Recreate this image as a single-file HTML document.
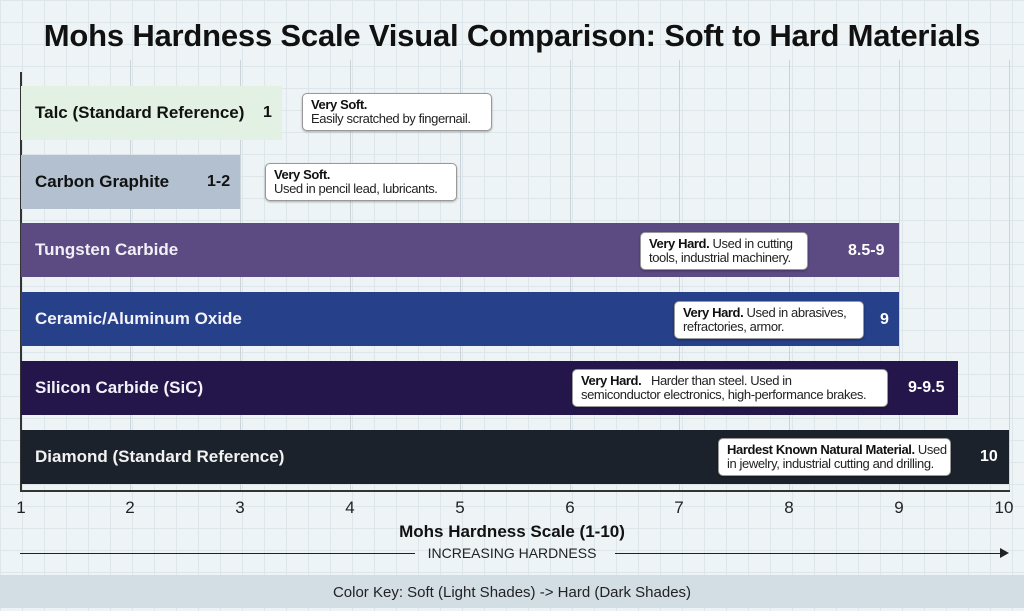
<!DOCTYPE html>
<html><head><meta charset="utf-8"><style>
*{margin:0;padding:0;box-sizing:border-box}
body{width:1024px;height:608px;overflow:hidden;position:relative;font-family:"Liberation Sans",sans-serif;
background-color:#eef4f6;
background-image:linear-gradient(#dde6ea 1px,transparent 1px),linear-gradient(90deg,#dde6ea 1px,transparent 1px);
background-size:22px 22px;}
.vl{position:absolute;top:60px;height:430px;width:1px;background:#c9d3d8}
.t{position:absolute;top:18px;left:0;width:1024px;text-align:center;font-size:31px;font-weight:bold;color:#111;letter-spacing:-0.2px}
.bar{position:absolute;left:21px;height:54px;font-size:17px;font-weight:bold;display:flex;align-items:center;padding-left:14px}
.val{position:absolute;font-size:16px;font-weight:bold}
.co{position:absolute;background:#fff;border:1px solid #999;border-radius:5px;font-size:13px;letter-spacing:-0.4px;line-height:14px;padding:4px 8px;color:#222;box-shadow:0 1px 2px rgba(0,0,0,.3);white-space:nowrap;overflow:hidden}
.co b{color:#111}
.tk{position:absolute;top:498px;font-size:17px;color:#222;width:30px;margin-left:-15px;text-align:center}
</style></head><body>
<div class="t">Mohs Hardness Scale Visual Comparison: Soft to Hard Materials</div>
<div class="vl" style="left:130px"></div><div class="vl" style="left:240px"></div><div class="vl" style="left:350px"></div><div class="vl" style="left:460px"></div><div class="vl" style="left:570px"></div><div class="vl" style="left:679px"></div><div class="vl" style="left:789px"></div><div class="vl" style="left:899px"></div><div class="vl" style="left:1009px"></div>
<div style="position:absolute;left:20px;top:72px;width:2px;height:420px;background:#333"></div>
<div style="position:absolute;left:20px;top:490px;width:990px;height:2px;background:#333"></div>

<div class="bar" style="top:86px;width:261px;background:#e3f1e4;color:#111">Talc (Standard Reference)</div>
<div class="val" style="left:263px;top:104px;color:#111">1</div>
<div class="co" style="left:302px;top:93px;width:190px"><b>Very Soft.</b><br>Easily scratched by fingernail.</div>

<div class="bar" style="top:155px;width:219px;background:#b2c0cf;color:#111">Carbon Graphite</div>
<div class="val" style="left:207px;top:173px;color:#111">1-2</div>
<div class="co" style="left:265px;top:163px;width:192px"><b>Very Soft.</b><br>Used in pencil lead, lubricants.</div>

<div class="bar" style="top:223px;width:878px;background:#5c4a82;color:#f2f0f6">Tungsten Carbide</div>
<div class="co" style="left:640px;top:232px;width:168px"><b>Very Hard.</b> Used in cutting<br>tools, industrial machinery.</div>
<div class="val" style="left:848px;top:242px;color:#fff">8.5-9</div>

<div class="bar" style="top:292px;width:878px;background:#26418a;color:#f2f2f8">Ceramic/Aluminum Oxide</div>
<div class="co" style="left:674px;top:301px;width:190px"><b>Very Hard.</b> Used in abrasives,<br>refractories, armor.</div>
<div class="val" style="left:880px;top:311px;color:#fff">9</div>

<div class="bar" style="top:361px;width:937px;background:#24164a;color:#f2f2f8">Silicon Carbide (SiC)</div>
<div class="co" style="left:572px;top:369px;width:316px"><b>Very Hard.</b>&nbsp;&nbsp; Harder than steel. Used in<br>semiconductor electronics, high-performance brakes.</div>
<div class="val" style="left:908px;top:379px;color:#fff">9-9.5</div>

<div class="bar" style="top:430px;width:988px;background:#1c222b;color:#f2f2f2">Diamond (Standard Reference)</div>
<div class="co" style="left:718px;top:438px;width:233px"><b>Hardest Known Natural Material.</b> Used<br>in jewelry, industrial cutting and drilling.</div>
<div class="val" style="left:980px;top:448px;color:#fff">10</div>

<div class="tk" style="left:21px">1</div><div class="tk" style="left:130px">2</div><div class="tk" style="left:240px">3</div><div class="tk" style="left:350px">4</div><div class="tk" style="left:460px">5</div><div class="tk" style="left:570px">6</div><div class="tk" style="left:679px">7</div><div class="tk" style="left:789px">8</div><div class="tk" style="left:899px">9</div><div class="tk" style="left:1004px">10</div>

<div style="position:absolute;top:522px;left:0;width:1024px;text-align:center;font-size:17px;font-weight:bold;color:#111">Mohs Hardness Scale (1-10)</div>
<div style="position:absolute;left:20px;top:553px;width:395px;height:1px;background:#222"></div>
<div style="position:absolute;left:615px;top:553px;width:388px;height:1px;background:#222"></div>
<div style="position:absolute;left:1000px;top:548px;width:0;height:0;border-left:9px solid #222;border-top:5px solid transparent;border-bottom:5px solid transparent"></div>
<div style="position:absolute;top:545px;left:0;width:1024px;text-align:center;font-size:14px;color:#222">INCREASING HARDNESS</div>
<div style="position:absolute;left:0;top:575px;width:1024px;height:33px;background:#d3dde4;text-align:center;font-size:15px;line-height:36px;color:#222">Color Key: Soft (Light Shades) -&gt; Hard (Dark Shades)</div>
</body></html>
